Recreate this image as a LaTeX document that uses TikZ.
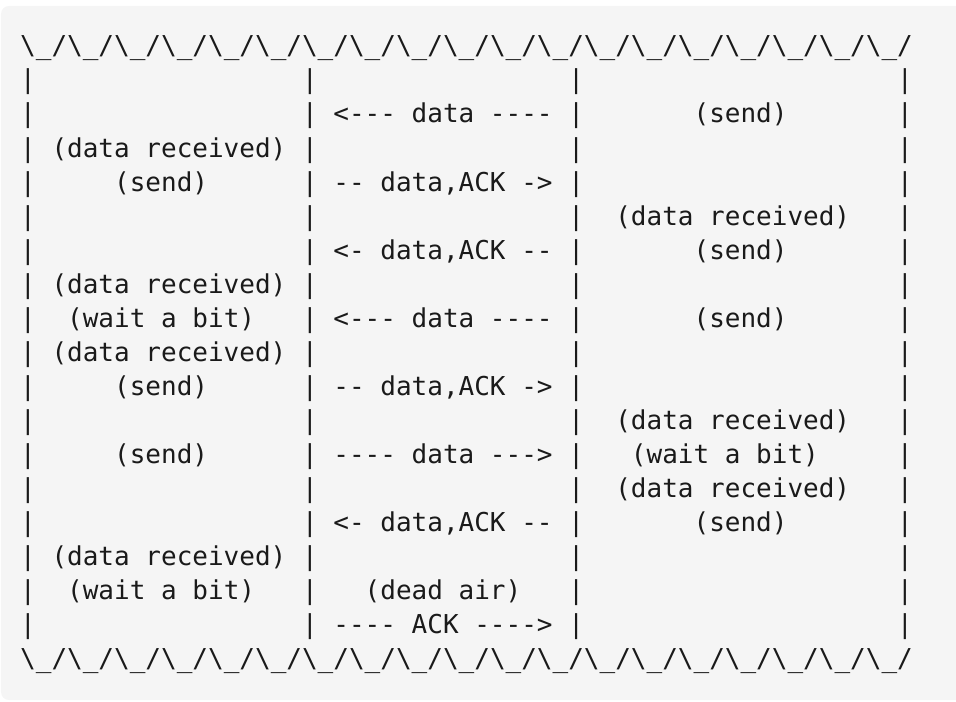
\documentclass[tikz,border=0pt]{standalone}
\usepackage{fontspec}
\setmonofont{DejaVu Sans Mono}
\usepackage{xcolor}
\definecolor{codebg}{HTML}{F5F5F5}
\definecolor{codefg}{HTML}{1A1A1A}

\begin{document}
\begin{tikzpicture}[every node/.style={inner sep=0pt, anchor=base west, text=codefg,
    font=\ttfamily\fontsize{7.4}{9.7}\selectfont}]
  \def\W{9.56}
  \def\H{7.02}
  \def\cw{0.1566}
  \def\lh{0.3406}
  \def\xo{0.195}
  \def\yo{0.5485}

  % CODE BLOCK BACKGROUND
  \clip (0,0) rectangle (\W,-\H);
  \fill[codebg, rounded corners=0.08cm] (0.01,-0.06) rectangle (\W+0.3,-7.00);

  % WAVY TOP AND BOTTOM EDGES
  \foreach \r in {1,19} {
    \foreach \i in {0,...,18} {
      \node (wave-\r-\i) at ({\xo+3*\i*\cw}, {-(\yo+(\r-1)*\lh)}) {\textbackslash\_/};
    }
  }

  % COLUMN BARS
  \foreach \r in {2,...,18} {
    \foreach \c in {0,18,35,56} {
      \node (bar-\r-\c) at ({\xo+\c*\cw}, {-(\yo+(\r-1)*\lh)}) {|};
    }
  }

  % LEFT SIDE, WIRE, RIGHT SIDE
  \foreach \r/\c/\t in {3/20/{<--- data ----}, 3/43/{(send)},
      4/2/{(data received)},
      5/6/{(send)}, 5/20/{-- data,ACK ->},
      6/38/{(data received)},
      7/20/{<- data,ACK --}, 7/43/{(send)},
      8/2/{(data received)},
      9/3/{(wait a bit)}, 9/20/{<--- data ----}, 9/43/{(send)},
      10/2/{(data received)},
      11/6/{(send)}, 11/20/{-- data,ACK ->},
      12/38/{(data received)},
      13/6/{(send)}, 13/20/{---- data --->}, 13/39/{(wait a bit)},
      14/38/{(data received)},
      15/20/{<- data,ACK --}, 15/43/{(send)},
      16/2/{(data received)},
      17/3/{(wait a bit)}, 17/22/{(dead air)},
      18/20/{---- ACK ---->}} {
    \node (msg-\r-\c) at ({\xo+\c*\cw}, {-(\yo+(\r-1)*\lh)}) {\t};
  }
\end{tikzpicture}
\end{document}
